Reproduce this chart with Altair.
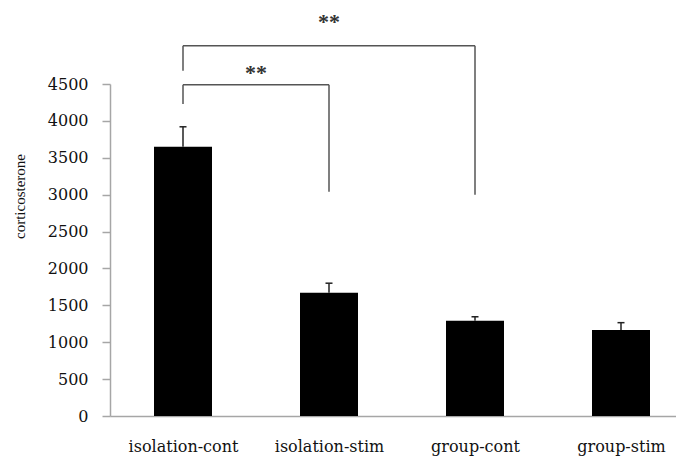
import altair as alt
import pandas as pd

categories = ["isolation-cont", "isolation-stim", "group-cont", "group-stim"]
means = [3650, 1670, 1290, 1165]
error_tops = [3920, 1800, 1345, 1265]

# significance brackets
bracket_from = [0, 0]
bracket_to = [1, 2]
bracket_top = [4490, 5020]
bracket_left_foot = [4230, 4680]
bracket_right_foot = [3040, 3000]
star_labels = ["**", "**"]
star_y = [4560, 5250]

y_ticks = list(range(0, 4501, 500))

bars = pd.DataFrame({
    "idx": list(range(len(categories))),
    "category": categories,
    "mean": means,
    "err": error_tops,
})

seg_rows = []
for f, t, top, lf, rf in zip(bracket_from, bracket_to, bracket_top, bracket_left_foot, bracket_right_foot):
    seg_rows.append({"x": f, "x2": t, "y": top, "y2": top})
    seg_rows.append({"x": f, "x2": f, "y": lf, "y2": top})
    seg_rows.append({"x": t, "x2": t, "y": rf, "y2": top})
segs = pd.DataFrame(seg_rows)

stars = pd.DataFrame({
    "x": [(f + t) / 2 for f, t in zip(bracket_from, bracket_to)],
    "y": star_y,
    "label": star_labels,
})

label_expr = "[" + ",".join("'" + c + "'" for c in categories) + "][datum.value]"

xscale = alt.Scale(domain=[-0.5, 3.3767], nice=False, zero=False, padding=0)
yscale = alt.Scale(domain=[0, 4500], nice=False, padding=0)

xaxis = alt.Axis(
    values=list(range(len(categories))), labelExpr=label_expr, title=None,
    ticks=False, grid=False, domainColor="#a6a6a6", domainWidth=1.5,
    labelFont="DejaVu Serif", labelFontSize=16, labelColor="#111111",
    labelBaseline="alphabetic", labelPadding=35, labelFlush=False, labelOverlap=False,
)
yaxis = alt.Axis(
    values=y_ticks, format="d", title="corticosterone", grid=False,
    domainColor="#a6a6a6", domainWidth=1.5, tickColor="#a6a6a6", tickWidth=1.5, tickSize=8,
    labelFont="DejaVu Serif", labelFontSize=16, labelColor="#111111", labelPadding=14,
    titleFont="Liberation Serif", titleFontSize=15, titleFontWeight="normal", titleColor="#111111",
    titleAngle=270, titleX=-86, titleY=112, titleAlign="center", titleBaseline="alphabetic",
)


def X(field):
    return alt.X(field, type="quantitative", scale=xscale, axis=xaxis)


def Y(field):
    return alt.Y(field, type="quantitative", scale=yscale, axis=yaxis)


bar_layer = alt.Chart(bars).mark_bar(size=58, color="#000000").encode(
    x=X("idx"), y=Y("mean")
)
err_layer = alt.Chart(bars).mark_rule(color="#222222", strokeWidth=1.5).encode(
    x=X("idx"), y=Y("mean"), y2="err"
)
cap_layer = alt.Chart(bars).mark_rule(color="#222222", strokeWidth=1.5, xOffset=-3.5, x2Offset=3.5).encode(
    x=X("idx"), x2="idx", y=Y("err")
)
seg_layer = alt.Chart(segs).mark_rule(color="#555555", strokeWidth=1.5).encode(
    x=X("x"), x2="x2", y=Y("y"), y2="y2"
)
star_layer = alt.Chart(stars).mark_text(
    font="Liberation Serif", fontSize=22, fontWeight="bold", color="#333333",
    baseline="alphabetic", align="center"
).encode(x=X("x"), y=Y("y"), text="label")

chart = alt.layer(bar_layer, err_layer, cap_layer, seg_layer, star_layer).properties(
    width=566, height=332,
    padding={"left": 102, "top": 76, "right": 0, "bottom": 40},
    autosize=alt.AutoSizeParams(type="none"),
).configure_view(stroke=None)

chart.save("out.html", embed_options={"renderer": "svg", "actions": False})
